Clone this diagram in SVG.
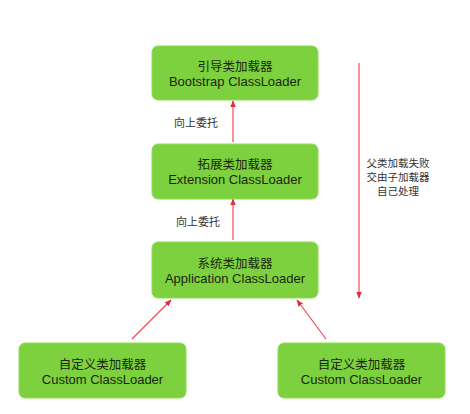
<svg xmlns="http://www.w3.org/2000/svg" width="470" height="414" viewBox="0 0 470 414">
<style>
.box{fill:#7dd13f;stroke:#8fdc55;stroke-width:1}
.t{font-family:"Liberation Sans","Noto Sans CJK SC",sans-serif;font-size:12.5px;fill:#1a2610;text-anchor:middle}
.e{font-size:13px}
.lbl{font-family:"Noto Sans CJK SC",sans-serif;font-size:11px;fill:#333;text-anchor:middle}
.sm{font-size:10.5px}
.arr{stroke:#ee4a5a;stroke-width:1.2;fill:none;marker-end:url(#ah)}
</style>
<defs>
<marker id="ah" viewBox="0 0 10 10" refX="9" refY="5" markerWidth="7" markerHeight="7" orient="auto" markerUnits="userSpaceOnUse">
<path d="M0,1 L10,5 L0,9 Z" fill="#e8283c"/>
</marker>
</defs>
<rect width="470" height="414" fill="#fff"/>
<g id="connectors">
<line class="arr" x1="233" y1="142" x2="233" y2="101"/>
<line class="arr" x1="233" y1="240" x2="233" y2="199"/>
<line class="arr" x1="132" y1="339" x2="171" y2="300"/>
<line class="arr" x1="326" y1="339" x2="297" y2="300"/>
<line class="arr" x1="359" y1="63" x2="359" y2="298"/>
</g>
<g id="bootstrap">
<rect class="box" x="152" y="46" width="166" height="54" rx="6"/>
<text class="t" x="235" y="70.5">引导类加载器</text>
<text class="t e" x="235" y="85.5">Bootstrap ClassLoader</text>
</g>
<g id="extension">
<rect class="box" x="152" y="144" width="166" height="55" rx="6"/>
<text class="t" x="235" y="168.5">拓展类加载器</text>
<text class="t e" x="235" y="183.5">Extension ClassLoader</text>
</g>
<g id="application">
<rect class="box" x="152" y="242" width="166" height="56" rx="6"/>
<text class="t" x="235" y="267.5">系统类加载器</text>
<text class="t e" x="235" y="282.5">Application ClassLoader</text>
</g>
<g id="custom1">
<rect class="box" x="19" y="343" width="167" height="55" rx="6"/>
<text class="t" x="102.5" y="368.5">自定义类加载器</text>
<text class="t e" x="102.5" y="383.5">Custom ClassLoader</text>
</g>
<g id="custom2">
<rect class="box" x="278" y="343" width="167" height="55" rx="6"/>
<text class="t" x="361.5" y="368.5">自定义类加载器</text>
<text class="t e" x="361.5" y="383.5">Custom ClassLoader</text>
</g>
<g id="labels">
<text class="lbl" x="196" y="127">向上委托</text>
<text class="lbl" x="198" y="226">向上委托</text>
<text class="lbl sm" x="398" y="167">父类加载失败</text>
<text class="lbl sm" x="398" y="181">交由子加载器</text>
<text class="lbl sm" x="398" y="195">自己处理</text>
</g>
</svg>
